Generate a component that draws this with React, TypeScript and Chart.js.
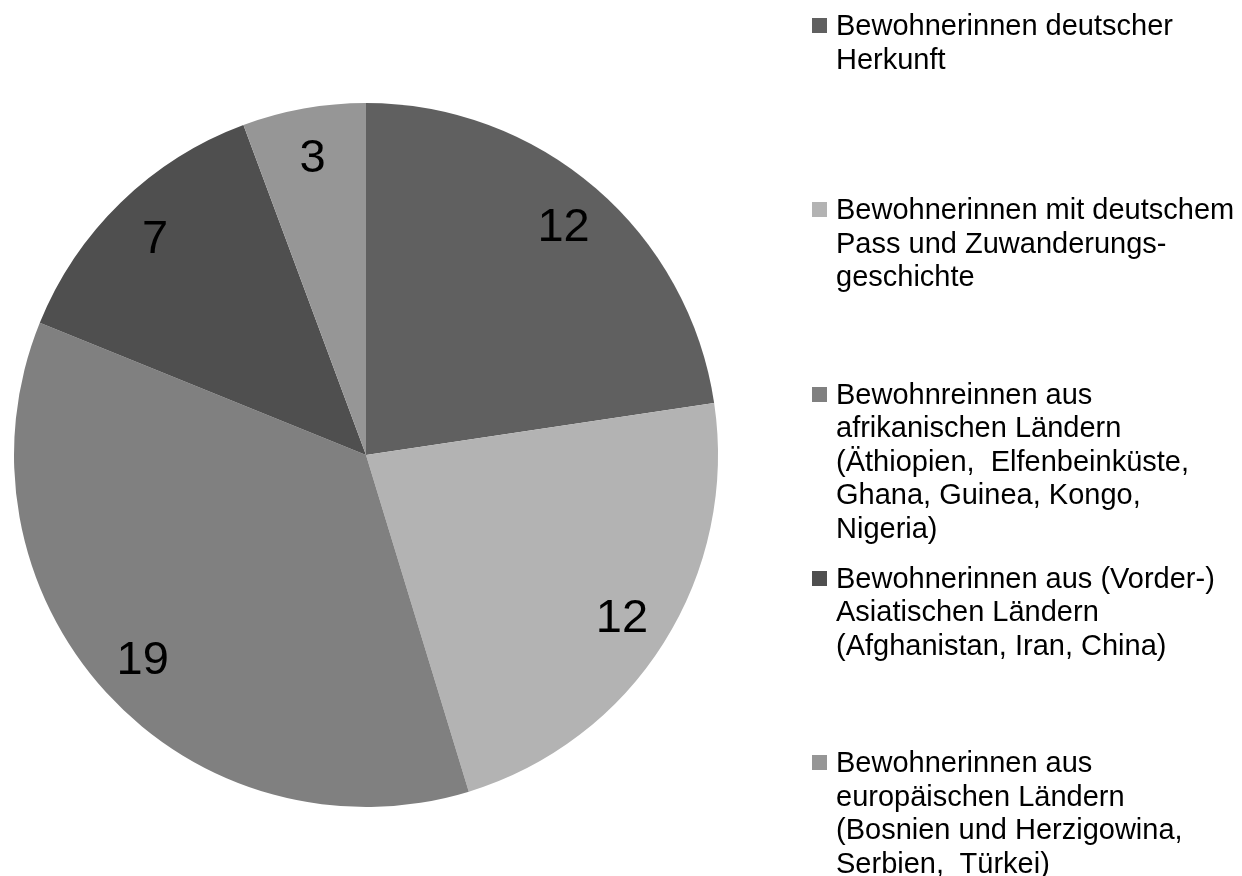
import React, { useEffect, useRef } from "react";
import { Chart, registerables } from "chart.js";

Chart.register(...registerables);

const categories = [
  "Bewohnerinnen deutscher Herkunft",
  "Bewohnerinnen mit deutschem Pass und Zuwanderungsgeschichte",
  "Bewohnreinnen aus afrikanischen Ländern (Äthiopien,  Elfenbeinküste, Ghana, Guinea, Kongo, Nigeria)",
  "Bewohnerinnen aus (Vorder-) Asiatischen Ländern (Afghanistan, Iran, China)",
  "Bewohnerinnen aus europäischen Ländern (Bosnien und Herzigowina, Serbien,  Türkei)",
];

const values = [12, 12, 19, 7, 3];

const legendLines = [
  ["Bewohnerinnen deutscher", "Herkunft"],
  ["Bewohnerinnen mit deutschem", "Pass und Zuwanderungs-", "geschichte"],
  ["Bewohnreinnen aus", "afrikanischen Ländern", "(Äthiopien,  Elfenbeinküste,", "Ghana, Guinea, Kongo,", "Nigeria)"],
  ["Bewohnerinnen aus (Vorder-)", "Asiatischen Ländern", "(Afghanistan, Iran, China)"],
  ["Bewohnerinnen aus", "europäischen Ländern", "(Bosnien und Herzigowina,", "Serbien,  Türkei)"],
];

const colors = ["#606060", "#b3b3b3", "#808080", "#4f4f4f", "#969696"];

const FONT = '"Liberation Sans", Arial, sans-serif';

const valueLabelPlugin = {
  id: "valueLabels",
  afterDatasetsDraw(chart: any) {
    const ctx = chart.ctx;
    const meta = chart.getDatasetMeta(0);
    ctx.save();
    ctx.font = `47px ${FONT}`;
    ctx.fillStyle = "#000";
    ctx.textAlign = "center";
    ctx.textBaseline = "middle";
    meta.data.forEach((arc: any, i: number) => {
      const p = arc.getProps(["startAngle", "endAngle", "outerRadius", "x", "y"], true);
      const mid = (p.startAngle + p.endAngle) / 2;
      const r = p.outerRadius * 0.86;
      ctx.fillText(String(chart.data.datasets[0].data[i]), p.x + Math.cos(mid) * r, p.y + Math.sin(mid) * r + 2);
    });
    ctx.restore();
  },
};

export default function App() {
  const ref = useRef<HTMLCanvasElement | null>(null);

  useEffect(() => {
    if (!ref.current) return;
    const chart = new Chart(ref.current, {
      type: "pie",
      data: {
        labels: categories,
        datasets: [
          {
            data: values,
            backgroundColor: colors,
            borderWidth: 0,
          },
        ],
      },
      options: {
        responsive: false,
        animation: false,
        layout: { padding: { left: 14, right: 524, top: 103, bottom: 69 } },
        plugins: {
          legend: { display: false },
          tooltip: { enabled: false },
        },
      },
      plugins: [valueLabelPlugin],
    });
    return () => chart.destroy();
  }, []);

  return (
    <div style={{ position: "fixed", left: 0, top: 0, width: 1242, height: 876, background: "#fff", overflow: "hidden" }}>
      <canvas ref={ref} width={1242} height={876} style={{ position: "absolute", left: 0, top: 0 }} />
      <div style={{ position: "absolute", left: 812, top: 9, width: 430 }}>
        {legendLines.map((lines, i) => (
          <div key={i} style={{ position: "relative", height: 184.3 }}>
            <div style={{ position: "absolute", left: 0, top: 9, width: 15, height: 15, background: colors[i] }} />
            <div
              style={{
                position: "absolute",
                left: 24,
                top: 0,
                fontFamily: FONT,
                fontSize: 29,
                lineHeight: "33.5px",
                color: "#000",
                whiteSpace: "pre",
              }}
            >
              {lines.map((l, j) => (
                <div key={j}>{l}</div>
              ))}
            </div>
          </div>
        ))}
      </div>
    </div>
  );
}
